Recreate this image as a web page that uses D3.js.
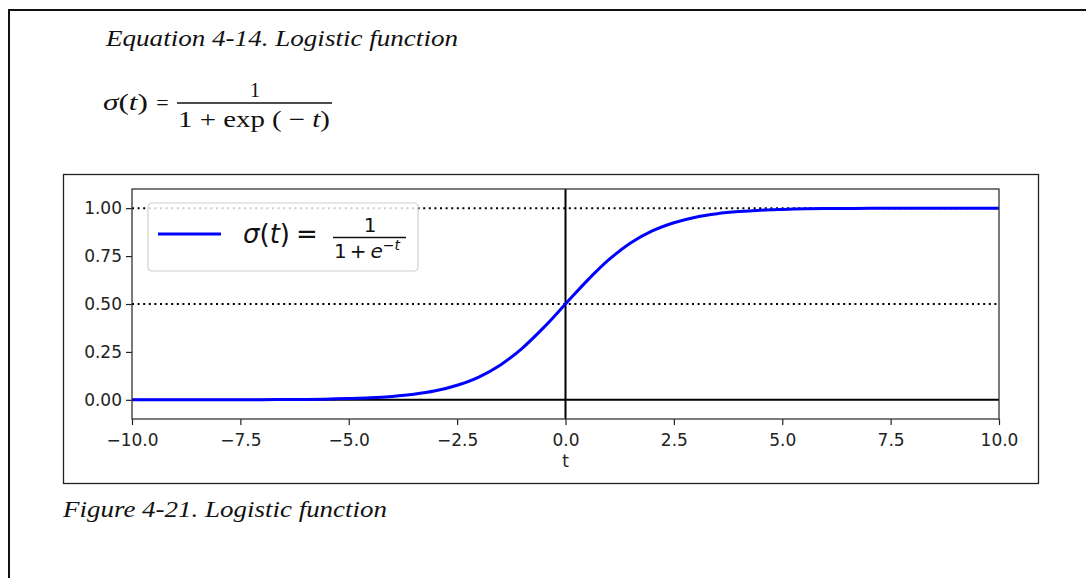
<!DOCTYPE html>
<html>
<head>
<meta charset="utf-8">
<title>Logistic function</title>
<script src="https://cdn.jsdelivr.net/npm/d3@7"></script>
<style>
  body { margin: 0; background: #fff; }
  svg { display: block; }
</style>
</head>
<body>
<script>
// Values (t, sigma(t))
var tValues = [-10, -9, -8, -7, -6, -5, -4.5, -4, -3.5, -3, -2.5, -2, -1.5, -1, -0.5,
               0, 0.5, 1, 1.5, 2, 2.5, 3, 3.5, 4, 4.5, 5, 6, 7, 8, 9, 10];
var sigmaValues = [0.000, 0.000, 0.000, 0.001, 0.002, 0.007, 0.011, 0.018, 0.029, 0.047, 0.076, 0.119, 0.182, 0.269, 0.378,
                   0.500, 0.622, 0.731, 0.818, 0.881, 0.924, 0.953, 0.971, 0.982, 0.989, 0.993, 0.998, 0.999, 1.000, 1.000, 1.000];
// Tick labels
var xTicks = [-10, -7.5, -5, -2.5, 0, 2.5, 5, 7.5, 10];
var yTicks = [0, 0.25, 0.5, 0.75, 1];
// Reference lines
var solidLevels = [0];
var dottedLevels = [0.5, 1];
var xDomain = [-10, 10];
var yDomain = [-0.1, 1.1];

var serif = "'Liberation Serif', 'DejaVu Serif', serif";
var sans = "'DejaVu Sans', sans-serif";

var svg = d3.select("body").append("svg")
    .attr("width", 1086)
    .attr("height", 578);

// Page frame of the book
svg.append("path")
    .attr("d", "M9,600 V10 H1100")
    .attr("fill", "none")
    .attr("stroke", "#111")
    .attr("stroke-width", 2);

// Equation title
svg.append("text")
    .attr("x", 106).attr("y", 46)
    .attr("textLength", 352).attr("lengthAdjust", "spacingAndGlyphs")
    .style("font-family", serif).style("font-style", "italic")
    .style("font-size", "24px").attr("fill", "#111")
    .text("Equation 4-14. Logistic function");

// Equation sigma(t) = 1 / (1 + exp(-t))
var eq = svg.append("text")
    .attr("x", 103).attr("y", 110)
    .attr("textLength", 45).attr("lengthAdjust", "spacingAndGlyphs")
    .style("font-family", serif).style("font-size", "24px").attr("fill", "#111");
eq.append("tspan").style("font-style", "italic").text("σ");
eq.append("tspan").text("(");
eq.append("tspan").style("font-style", "italic").text("t");
eq.append("tspan").text(")");
svg.append("text")
    .attr("x", 162.5).attr("y", 110).attr("text-anchor", "middle")
    .style("font-family", serif).style("font-size", "22px").attr("fill", "#111")
    .text("=");
svg.append("line")
    .attr("x1", 177).attr("x2", 332).attr("y1", 103).attr("y2", 103)
    .attr("stroke", "#111").attr("stroke-width", 1.3);
svg.append("text")
    .attr("x", 255).attr("y", 97).attr("text-anchor", "middle")
    .style("font-family", serif).style("font-size", "20px").attr("fill", "#111")
    .text("1");
var den = svg.append("text")
    .attr("x", 178).attr("y", 127)
    .attr("textLength", 152).attr("lengthAdjust", "spacingAndGlyphs")
    .style("font-family", serif).style("font-size", "23px").attr("fill", "#111");
den.append("tspan").text("1 +  exp ( − ");
den.append("tspan").style("font-style", "italic").text("t");
den.append("tspan").text(")");

// Figure frame
svg.append("rect")
    .attr("x", 63.5).attr("y", 174.5)
    .attr("width", 975).attr("height", 309)
    .attr("fill", "none").attr("stroke", "#222").attr("stroke-width", 1.3);

// Caption
svg.append("text")
    .attr("x", 63).attr("y", 517)
    .attr("textLength", 324).attr("lengthAdjust", "spacingAndGlyphs")
    .style("font-family", serif).style("font-style", "italic")
    .style("font-size", "24px").attr("fill", "#111")
    .text("Figure 4-21. Logistic function");

// Plot area
var margin = {left: 132, top: 189};
var plotWidth = 999 - 132;
var plotHeight = 419 - 189;

var xScale = d3.scaleLinear().domain(xDomain).range([0, plotWidth]);
var yScale = d3.scaleLinear().domain(yDomain).range([plotHeight, 0]);

var g = svg.append("g")
    .attr("transform", "translate(" + margin.left + "," + margin.top + ")");

g.append("clipPath").attr("id", "plotclip")
  .append("rect").attr("width", plotWidth).attr("height", plotHeight);

var plot = g.append("g").attr("clip-path", "url(#plotclip)");

// Solid black reference lines
plot.selectAll(".solid")
    .data(solidLevels)
    .enter().append("line")
    .attr("x1", xScale(xDomain[0])).attr("x2", xScale(xDomain[1]))
    .attr("y1", function(d) { return yScale(d); })
    .attr("y2", function(d) { return yScale(d); })
    .attr("stroke", "#000").attr("stroke-width", 2);

// Dotted reference lines
plot.selectAll(".dotted")
    .data(dottedLevels)
    .enter().append("line")
    .attr("x1", xScale(xDomain[0])).attr("x2", xScale(xDomain[1]))
    .attr("y1", function(d) { return yScale(d); })
    .attr("y2", function(d) { return yScale(d); })
    .attr("stroke", "#000").attr("stroke-width", 2)
    .attr("stroke-dasharray", "2,3.6");

// Vertical axis at t = 0
plot.append("line")
    .attr("x1", xScale(0)).attr("x2", xScale(0))
    .attr("y1", yScale(-1.1)).attr("y2", yScale(1.1))
    .attr("stroke", "#000").attr("stroke-width", 2);

// Logistic curve
var points = tValues.map(function(t, i) { return [t, sigmaValues[i]]; });
var line = d3.line()
    .x(function(d) { return xScale(d[0]); })
    .y(function(d) { return yScale(d[1]); })
    .curve(d3.curveMonotoneX);
plot.append("path")
    .datum(points)
    .attr("d", line)
    .attr("fill", "none")
    .attr("stroke", "#0000ff")
    .attr("stroke-width", 3);

// Axes
var xAxis = d3.axisBottom(xScale)
    .tickValues(xTicks).tickSize(6).tickPadding(5)
    .tickFormat(d3.format(".1f"));
var yAxis = d3.axisLeft(yScale)
    .tickValues(yTicks).tickSize(6).tickPadding(4)
    .tickFormat(d3.format(".2f"));

var gx = g.append("g")
    .attr("transform", "translate(0," + plotHeight + ")")
    .call(xAxis);
var gy = g.append("g").call(yAxis);

[gx, gy].forEach(function(ax) {
  ax.select(".domain").remove();
  ax.selectAll(".tick line").attr("stroke", "#222").attr("stroke-width", 1.2);
  ax.selectAll(".tick text")
    .style("font-family", sans).style("font-size", "17px").attr("fill", "#222");
});
gx.selectAll(".tick text").attr("dy", "0.92em");

// Spines
g.append("rect")
    .attr("width", plotWidth).attr("height", plotHeight)
    .attr("fill", "none").attr("stroke", "#333").attr("stroke-width", 1.3);

// Axis label
g.append("text")
    .attr("x", xScale(0)).attr("y", 278)
    .attr("text-anchor", "middle")
    .style("font-family", sans).style("font-size", "17px").attr("fill", "#222")
    .text("t");

// Legend
var legend = svg.append("g").attr("transform", "translate(148,203)");
legend.append("rect")
    .attr("width", 270).attr("height", 68).attr("rx", 4)
    .attr("fill", "#fff").attr("fill-opacity", 0.8)
    .attr("stroke", "#d0d0d0").attr("stroke-width", 1.2);
legend.append("line")
    .attr("x1", 10).attr("x2", 73).attr("y1", 31).attr("y2", 31)
    .attr("stroke", "#0000ff").attr("stroke-width", 3);

var lab = legend.append("text")
    .attr("x", 95).attr("y", 40)
    .style("font-family", sans).style("font-size", "26px").attr("fill", "#111");
lab.append("tspan").style("font-style", "italic").text("σ");
lab.append("tspan").text("(");
lab.append("tspan").style("font-style", "italic").text("t");
lab.append("tspan").text(")");
lab.append("tspan").attr("dx", 6).text("=");

legend.append("line")
    .attr("x1", 185).attr("x2", 258).attr("y1", 34.5).attr("y2", 34.5)
    .attr("stroke", "#111").attr("stroke-width", 1.4);
legend.append("text")
    .attr("x", 222).attr("y", 29).attr("text-anchor", "middle")
    .style("font-family", sans).style("font-size", "20px").attr("fill", "#111")
    .text("1");
var dlab = legend.append("text")
    .attr("x", 186).attr("y", 55)
    .style("font-family", sans).style("font-size", "20px").attr("fill", "#111");
dlab.append("tspan").text("1");
dlab.append("tspan").attr("dx", 3).text("+");
dlab.append("tspan").attr("dx", 4).style("font-style", "italic").text("e");
dlab.append("tspan").attr("dy", -8).style("font-size", "14px").text("−");
dlab.append("tspan").style("font-size", "14px").style("font-style", "italic").text("t");
</script>
</body>
</html>
